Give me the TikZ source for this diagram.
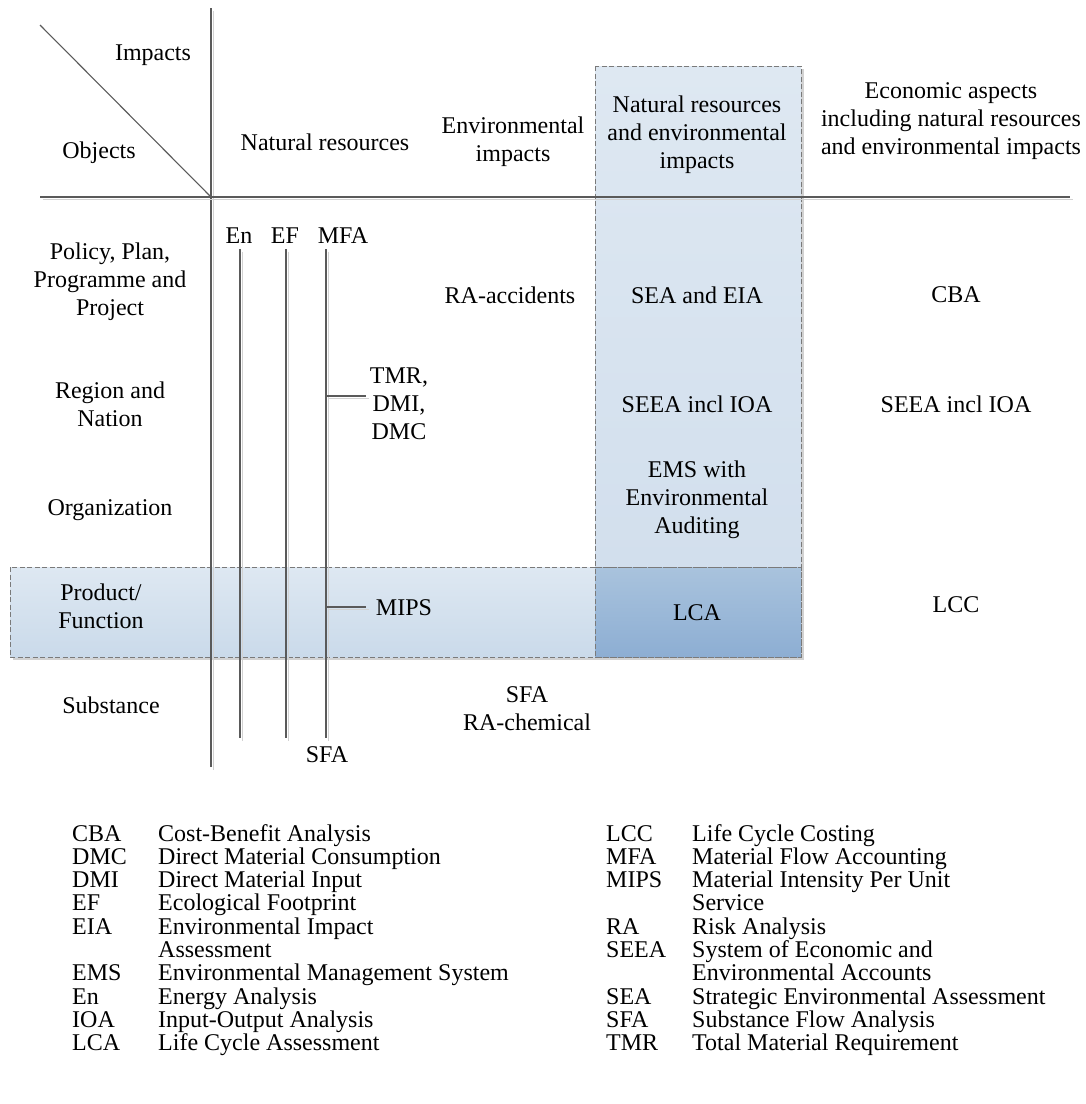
\documentclass[tikz,border=0pt]{standalone}
\usepackage{fontspec}
\setmainfont{Liberation Serif}
\usepackage{tikz}
\usetikzlibrary{positioning}
\definecolor{rulegray}{HTML}{5A5A5A}
\definecolor{ruleshade}{HTML}{D2D2D2}
\definecolor{paleblue}{HTML}{DEE8F2}
\definecolor{palebluedk}{HTML}{CADAEA}
\definecolor{colbot}{HTML}{D2DFED}
\definecolor{lcatop}{HTML}{A9C3DD}
\definecolor{lcabot}{HTML}{8DAED3}
\definecolor{boxedge}{HTML}{7A7A7A}

\begin{document}
\begin{tikzpicture}[x=1pt,y=-1pt,every node/.style={font=\fontsize{24}{28}\selectfont,inner sep=0pt}]
\tikzstyle{lbl}=[align=center]
\tikzstyle{abbr}=[anchor=base west]
\tikzstyle{rule}=[draw=rulegray,line width=1.2pt,preaction={draw=ruleshade,line width=1.6pt,transform canvas={xshift=2.5pt,yshift=-2.5pt}}]
\tikzstyle{dashbox}=[draw=boxedge,line width=1pt,dash pattern=on 5pt off 2.5pt]
\useasboundingbox (0,0) rectangle (1086,1104);
% shaded areas
\fill[ruleshade] (13,570) rectangle (804,660);
\fill[ruleshade] (598,69) rectangle (804,660);
\fill[top color=paleblue,bottom color=palebluedk] (10,567) rectangle (801,657);
\fill[top color=paleblue,bottom color=colbot] (595,66) rectangle (801,567);
\fill[top color=lcatop,bottom color=lcabot] (595,567) rectangle (801,657);
\draw[dashbox] (10,567) rectangle (801,657);
\draw[dashbox] (595,66) rectangle (801,657);
\draw[dashbox] (595,567) -- (801,567);
% grid lines
\coordinate (diagA) at (40,25);
\coordinate (corner) at (211,197);
\coordinate (vTop) at (211,8);
\coordinate (vBot) at (211,767);
\coordinate (hL) at (40,197);
\coordinate (hR) at (1070,197);
\draw[rule] (vTop) -- (vBot);
\draw[rule] (hL) -- (hR);
\draw[draw=rulegray,line width=1.1pt] (diagA) -- (corner);
% header
\node (impacts) at (153,55) {Impacts};
\node (objects) at (99,153) {Objects};
\node[lbl] (hnat) at (325,142) {Natural resources};
\node[lbl] (henv) at (513,142) {Environmental\\impacts};
\node[lbl] (hboth) at (697,135) {Natural resources\\and environmental\\impacts};
\node[lbl] (hecon) at (951,121) {Economic aspects\\including natural resources\\and environmental impacts};
% rows
\node[lbl] (policy) at (110,282) {Policy, Plan,\\Programme and\\Project};
\node[lbl] (region) at (110,404) {Region and\\Nation};
\node (org) at (110,510) {Organization};
\node[lbl] (product) at (101,606) {Product/\\Function};
\node (subst) at (111,705) {Substance};
% natural resources methods
\node (en) at (239,236) {En};
\node (ef) at (285,236) {EF};
\node (mfa) at (343,236) {MFA};
\coordinate (enA) at (240,249);
\coordinate (enB) at (240,738);
\coordinate (efA) at (286,249);
\coordinate (efB) at (286,738);
\coordinate (mfaA) at (326,249);
\coordinate (mfaB) at (326,738);
\draw[rule] (enA) -- (enB);
\draw[rule] (efA) -- (efB);
\draw[rule] (mfaA) -- (mfaB);
\node[lbl] (tmr) at (399,404) {TMR,\\DMI,\\DMC};
\node (mips) at (404,608) {MIPS};
\node (sfaNR) at (327,755) {SFA};
\coordinate (tmrTick) at (326,396);
\coordinate (tmrEnd) at (366,396);
\coordinate (mipsTick) at (326,607);
\coordinate (mipsEnd) at (366,607);
\draw[rule] (tmrTick) -- (tmrEnd);
\draw[rule] (mipsTick) -- (mipsEnd);
% cells
\node (raacc) at (510,295) {RA-accidents};
\node[lbl] (sfaRA) at (527,709) {SFA\\RA-chemical};
\node (seaeia) at (697,295) {SEA and EIA};
\node (seea) at (697,404) {SEEA incl IOA};
\node[lbl] (ems) at (697,500) {EMS with\\Environmental\\Auditing};
\node (lca) at (697,613) {LCA};
\node (cba) at (956,295) {CBA};
\node (seeaEc) at (956,404) {SEEA incl IOA};
\node (lcc) at (956,605) {LCC};
% legend
\foreach \r/\ab/\txt in {0/CBA/Cost-Benefit Analysis,1/DMC/Direct Material Consumption,2/DMI/Direct Material Input,3/EF/Ecological Footprint,4/EIA/Environmental Impact,6/EMS/Environmental Management System,7/En/Energy Analysis,8/IOA/Input-Output Analysis,9/LCA/Life Cycle Assessment}{
  \node[abbr] (k\ab) at (72,841+23.3*\r) {\ab};
  \node[abbr] (d\ab) at (158,841+23.3*\r) {\txt};
}
\node[abbr] (dEIAb) at (158,841+23.3*5) {Assessment};
\foreach \r/\ab/\txt in {0/LCC/Life Cycle Costing,1/MFA/Material Flow Accounting,2/MIPS/Material Intensity Per Unit,4/RA/Risk Analysis,5/SEEA/System of Economic and,7/SEA/Strategic Environmental Assessment,8/SFA/Substance Flow Analysis,9/TMR/Total Material Requirement}{
  \node[abbr] (k\ab) at (606,841+23.3*\r) {\ab};
  \node[abbr] (d\ab) at (692,841+23.3*\r) {\txt};
}
\node[abbr] (dMIPSb) at (692,841+23.3*3) {Service};
\node[abbr] (dSEEAb) at (692,841+23.3*6) {Environmental Accounts};
\end{tikzpicture}
\end{document}
